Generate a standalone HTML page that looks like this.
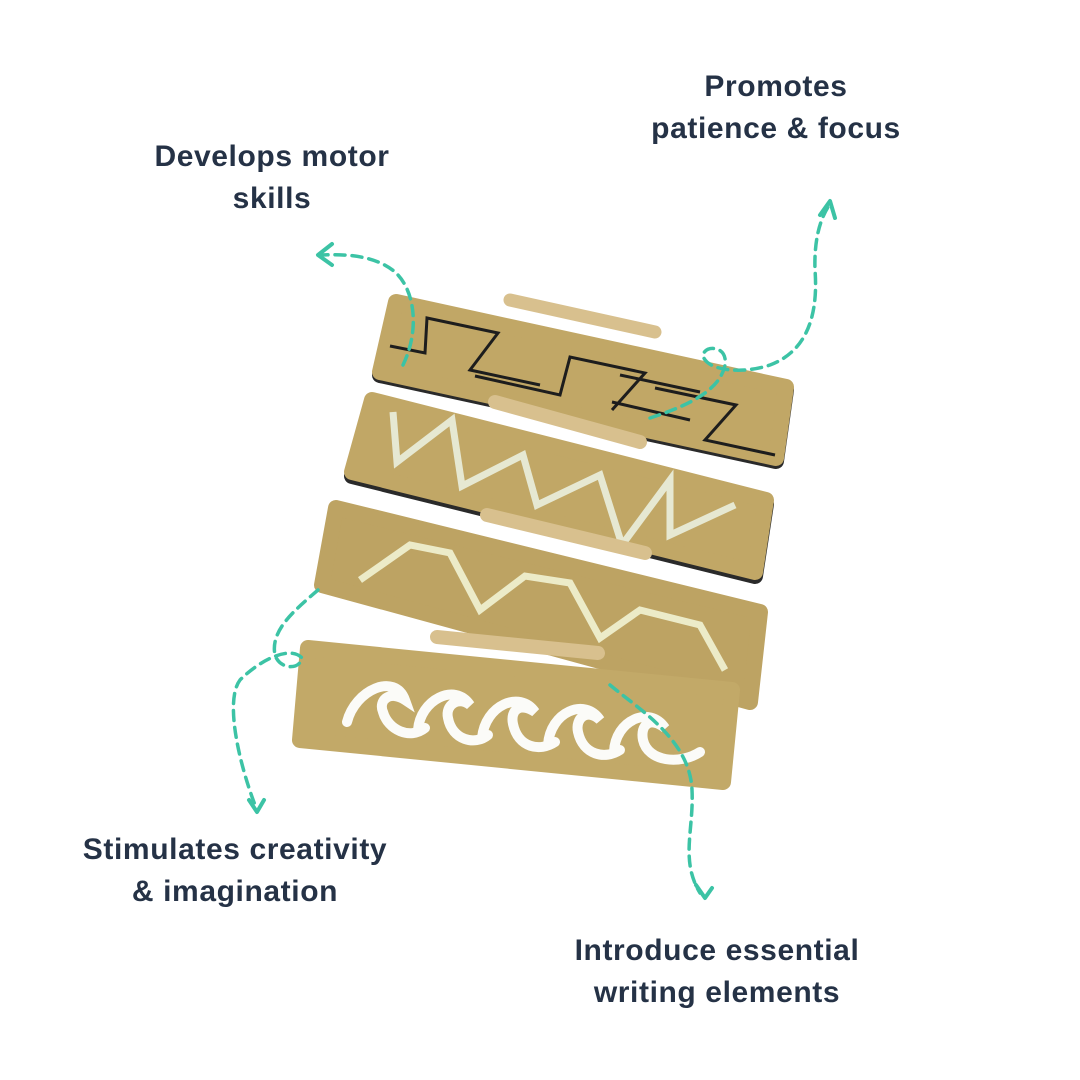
<!DOCTYPE html>
<html><head><meta charset="utf-8"><style>
html,body{margin:0;padding:0;background:#fff}
body{width:1080px;height:1080px;position:relative;overflow:hidden;font-family:"Liberation Sans",sans-serif}
.t{position:absolute;color:#253246;font-weight:bold;font-size:30px;letter-spacing:0.6px;line-height:42px;text-align:center;white-space:nowrap;transform:translateX(-50%)}
svg{position:absolute;left:0;top:0}
</style></head><body>
<svg width="1080" height="1080" viewBox="0 0 1080 1080">
<g stroke-linejoin="round" stroke-width="16">
<polygon points="396,302 786,387 776,458 380,372" fill="#2a2a2a" stroke="#2a2a2a" transform="translate(0,3)"/>
<polygon points="396,302 786,387 776,458 380,372" fill="#c1a766" stroke="#c1a766"/>
<polygon points="372,400 766,500 755,572 352,472" fill="#2a2a2a" stroke="#2a2a2a" transform="translate(0,4)"/>
<polygon points="372,400 766,500 755,572 352,472" fill="#c1a766" stroke="#c1a766"/>
<polygon points="336,508 760,612 750,702 322,585" fill="#bda363" stroke="#bda363"/>
<polygon points="308,648 732,690 723,782 300,740" fill="#c2a968" stroke="#c2a968"/>
</g>
<g fill="none" stroke="#1d1d1d" stroke-width="3">
<polyline points="390,346 425,353 427,318 498,333 470,370 540,385"/>
<polyline points="475,376 560,395 570,357 645,373 612,410"/>
<polyline points="612,402 690,420"/>
<polyline points="655,388 736,405 705,440 775,455"/>
<polyline points="620,375 700,392"/>
</g>
<polyline points="393,412 397,462 452,420 462,486 523,455 537,505 600,475 622,545 670,480 670,535 735,505" fill="none" stroke="#e6e8d2" stroke-width="7" stroke-linejoin="miter"/>
<polyline points="360,580 410,545 450,553 480,610 525,576 570,583 600,638 640,610 700,625 725,670" fill="none" stroke="#ecebc8" stroke-width="7"/>
<g fill="none" stroke="#fbfbf8" stroke-width="10" stroke-linecap="round">
<path d="M347,722 C355,690 395,672 405,700 C390,690 378,700 383,712 C388,730 410,740 425,728"/>
<path d="M418,730 C420,700 455,682 470,705 C458,696 445,705 448,718 C452,740 475,746 488,735"/>
<path d="M482,738 C485,705 520,690 535,712 C520,702 510,710 513,724 C518,748 540,752 555,742"/>
<path d="M548,745 C550,712 585,697 600,720 C587,708 575,718 578,732 C583,755 605,760 620,750"/>
<path d="M614,752 C615,720 650,705 665,728 C650,716 640,725 643,740 C648,762 680,765 700,752"/>
</g>
<g stroke-linecap="round">
<line x1="510" y1="300" x2="655" y2="332" stroke="#d8c08e" stroke-width="13"/>
<line x1="495" y1="402" x2="640" y2="442" stroke="#d8c08e" stroke-width="14"/>
<line x1="487" y1="515" x2="645" y2="553" stroke="#d8c08e" stroke-width="14"/>
<line x1="437" y1="637" x2="598" y2="653" stroke="#d8c08e" stroke-width="14"/>
</g>
<g fill="none" stroke="#3cc3a5" stroke-width="3.5" stroke-dasharray="10,7" stroke-linecap="round">
<path d="M403,365 C420,330 415,290 395,272 C375,255 345,254 322,255"/>
<path d="M650,418 C690,405 720,390 725,365 C728,345 705,345 703,355 C705,370 740,375 770,365 C810,350 818,310 815,270 C814,240 820,220 828,207"/>
<path d="M318,590 C295,610 270,630 275,655 C280,670 300,670 302,658 C290,645 260,660 240,680 C225,700 238,760 255,805"/>
<path d="M610,685 C640,710 690,740 692,790 C694,830 680,860 700,893"/>
</g>
<g fill="none" stroke="#3cc3a5" stroke-width="4" stroke-linecap="round" stroke-linejoin="round">
<polyline points="332,244 318,255 332,265"/>
<polyline points="820,215 830,201 835,218"/>
<polyline points="249,800 257,812 264,800"/>
<polyline points="696,885 705,898 712,888"/>
</g>
</svg>
<div class="t" style="left:272px;top:136px">Develops motor<br>skills</div>
<div class="t" style="left:776px;top:66px">Promotes<br>patience &amp; focus</div>
<div class="t" style="left:235px;top:829px">Stimulates creativity<br>&amp; imagination</div>
<div class="t" style="left:717px;top:930px">Introduce essential<br>writing elements</div>
</body></html>
